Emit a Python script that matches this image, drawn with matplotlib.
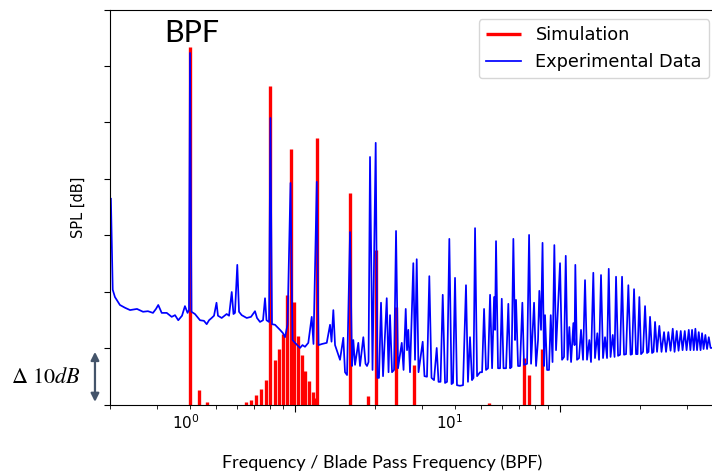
import numpy as np
import matplotlib
matplotlib.use('Agg')
import matplotlib.pyplot as plt
from matplotlib.ticker import NullLocator

# simulation tones (frequency / BPF, SPL dB)
sim_freq = [1.000, 1.081, 1.162, 1.623, 1.699, 1.777, 1.853, 1.934, 2.011, 2.089,
            2.163, 2.238, 2.317, 2.395, 2.475, 2.556, 2.640, 2.726, 2.818, 2.899,
            2.976, 3.009, 4.016, 4.708, 5.020, 5.990, 7.002, 13.44, 18.21, 19.07,
            21.30]
sim_spl = [63.4, 2.65, 0.5, 0.45, 0.9, 1.8, 2.8, 4.35, 56.5, 8.0,
           9.9, 12.5, 19.4, 45.3, 18.3, 12.2, 8.85, 6.1, 4.2, 2.35,
           1.2, 47.2, 37.5, 1.6, 27.4, 17.4, 7.1, 0.4, 8.3, 5.3,
           9.9]

# experimental spectrum
exp_freq = [0.503, 0.511, 0.521, 0.544, 0.569, 0.594, 0.631, 0.665, 0.694, 0.725,
            0.744, 0.759, 0.782, 0.817, 0.853, 0.878, 0.903, 0.933, 0.957, 0.979,
            0.991, 1.000, 1.013, 1.044, 1.091, 1.129, 1.156, 1.180, 1.207, 1.232,
            1.259, 1.275, 1.317, 1.375, 1.404, 1.437, 1.459, 1.478, 1.508, 1.531,
            1.567, 1.637, 1.699, 1.759, 1.790, 1.837, 1.886, 1.919, 1.944, 1.987,
            2.011, 2.039, 2.093, 2.186, 2.244, 2.283, 2.333, 2.395, 2.437, 2.490,
            2.601, 2.658, 2.716, 2.795, 2.879, 2.924, 3.009, 3.054, 3.149, 3.281,
            3.376, 3.420, 3.474, 3.526, 3.578, 3.681, 3.789, 3.845, 3.913, 4.016,
            4.087, 4.133, 4.195, 4.316, 4.380, 4.508, 4.595, 4.655, 4.717, 4.778,
            4.883, 5.020, 5.098, 5.166, 5.257, 5.350, 5.525, 5.612, 5.685, 5.785,
            5.887, 5.990, 6.095, 6.295, 6.394, 6.516, 6.590, 6.665, 6.764, 6.960,
            7.064, 7.169, 7.282, 7.551, 7.670, 7.838, 7.998, 8.152, 8.332, 8.529,
            8.664, 8.817, 8.987, 9.169, 9.329, 9.517, 9.701, 9.829, 10.00, 10.17,
            10.44, 10.72, 11.00, 11.19, 11.39, 11.59, 11.74, 11.90, 12.11, 12.43,
            12.65, 12.87, 13.09, 13.32, 13.56, 13.80, 14.04, 14.16, 14.28, 14.53,
            14.79, 15.01, 15.24, 15.58, 15.89, 16.13, 16.34, 16.60, 16.84, 16.99,
            17.29, 17.59, 17.95, 18.21, 18.70, 19.03, 19.36, 19.87, 20.22, 20.57,
            20.80, 21.11, 21.39, 21.67, 21.86, 22.25, 22.63, 22.97, 23.33, 23.70,
            24.05, 24.90, 25.34, 25.78, 26.17, 26.58, 27.00, 27.41, 27.96, 28.25,
            28.44, 28.86, 29.37, 29.88, 30.41, 30.94, 31.48, 32.12, 32.59, 33.25,
            33.74, 34.43, 34.94, 35.55, 36.18, 36.81, 37.46, 38.02, 38.62, 39.36,
            39.99, 40.51, 41.22, 41.95, 42.68, 43.42, 44.19, 45.08, 45.96, 46.55,
            47.37, 48.19, 48.83, 49.60, 50.34, 51.22, 52.12, 53.03, 53.73, 54.43,
            55.39, 56.12, 56.85, 57.85, 59.01, 60.14, 61.47, 62.55, 63.81, 65.05,
            66.30, 67.35, 68.65, 69.73, 71.08, 72.20, 73.60, 74.76, 76.21, 77.27,
            78.42, 79.58, 80.70, 81.89, 83.10, 84.42, 85.53, 86.66, 88.03, 89.33,
            90.67, 92.09, 93.29, 98.0]
exp_spl = [36.5, 20.4, 19.1, 17.7, 17.2, 16.8, 17.0, 16.5, 16.6, 16.3,
           17.0, 17.7, 16.3, 16.3, 15.6, 15.9, 15.0, 15.8, 17.5, 16.3,
           16.8, 62.3, 16.5, 16.1, 15.0, 14.9, 14.3, 15.0, 15.4, 15.8,
           18.1, 15.8, 15.4, 16.1, 15.8, 20.0, 16.1, 16.3, 24.8, 16.5,
           15.9, 15.4, 15.6, 16.6, 15.4, 14.7, 15.0, 18.9, 15.0, 14.7,
           50.8, 14.3, 14.2, 13.3, 12.7, 12.0, 14.2, 39.3, 11.5, 11.0,
           10.1, 10.6, 10.3, 11.0, 15.6, 10.8, 39.5, 10.6, 10.8, 11.0,
           14.2, 11.2, 16.8, 10.6, 9.7, 8.0, 11.9, 5.8, 5.3, 30.6,
           6.9, 11.5, 7.1, 11.0, 6.9, 12.0, 7.3, 6.9, 7.6, 43.9,
           6.2, 46.4, 4.8, 4.8, 18.1, 5.1, 18.9, 5.8, 15.9, 5.8,
           6.2, 30.8, 6.5, 11.0, 6.2, 17.0, 9.7, 13.3, 5.8, 25.1,
           8.0, 25.8, 5.8, 11.2, 5.1, 5.0, 22.8, 4.8, 4.4, 10.1,
           4.1, 4.1, 19.5, 3.9, 4.1, 29.4, 3.7, 3.9, 22.5, 3.5,
           3.4, 3.5, 21.2, 4.1, 12.0, 4.4, 4.8, 31.3, 5.1, 5.8,
           5.8, 17.0, 6.2, 6.5, 19.5, 6.5, 19.1, 13.3, 29.0, 6.5,
           6.5, 18.8, 6.5, 6.5, 17.9, 6.5, 6.7, 29.4, 11.5, 18.6,
           6.9, 6.9, 18.1, 7.1, 7.3, 30.1, 7.3, 18.1, 6.9, 11.5,
           20.2, 13.3, 28.7, 6.9, 15.9, 6.2, 6.2, 15.9, 7.6, 28.3,
           9.7, 25.1, 8.0, 8.5, 26.4, 8.0, 13.8, 7.6, 14.5, 10.6,
           24.8, 8.0, 8.3, 13.3, 8.0, 22.1, 8.0, 11.5, 7.6, 23.4,
           8.3, 12.7, 8.0, 23.0, 8.3, 12.0, 8.3, 24.1, 8.5, 12.4,
           8.5, 22.7, 8.7, 8.9, 22.7, 8.9, 9.0, 21.2, 8.9, 9.0,
           20.5, 9.0, 9.0, 19.1, 9.0, 9.4, 17.5, 9.2, 9.4, 15.6,
           9.2, 9.4, 14.7, 9.4, 14.0, 9.4, 12.9, 9.4, 12.9, 9.6,
           13.5, 9.4, 13.1, 9.6, 13.1, 9.7, 13.1, 9.7, 13.3, 9.7,
           13.3, 9.7, 13.5, 9.7, 12.9, 9.7, 12.7, 9.9, 12.4, 9.9,
           12.0, 10.1, 10.1, 10.1]

major_ticks = [2.5, 25]
minor_ticks = [0.5, 0.75, 1.0, 1.25, 1.5, 1.75, 2.0, 2.25,
               5, 7.5, 10, 12.5, 15, 17.5, 20, 22.5, 50, 75]
label_ticks = [0.962, 9.55]
label_text = ['$10^{0}$', '$10^{1}$']

fig = plt.figure(figsize=(7.12, 4.75), dpi=100)
ax = fig.add_axes([0.1548, 0.1474, 0.8565, 0.8326])

ax.vlines(sim_freq, 0, sim_spl, colors='#ff0000', linewidth=2.4, label='Simulation')
ax.plot(exp_freq, exp_spl, color='#0000ff', linewidth=1.25, label='Experimental Data')

ax.set_xscale('log')
ax.set_xlim(0.5, 100)
ax.set_ylim(0, 70)
ax.set_yticks(np.arange(0, 71, 10))
ax.set_xticks(major_ticks)
ax.set_xticks(minor_ticks, minor=True)
ax.tick_params(axis='both', which='both', labelbottom=False, labelleft=False)
ax.tick_params(axis='x', which='major', length=5)
ax.tick_params(axis='x', which='minor', length=3)
ax.tick_params(axis='y', length=4.3)

sec = ax.secondary_xaxis('bottom')
sec.set_xticks(label_ticks)
sec.set_xticklabels(label_text)
sec.xaxis.set_minor_locator(NullLocator())
sec.tick_params(length=0, pad=6, labelsize=11)
sec.spines['bottom'].set_visible(False)

ax.set_ylabel('SPL [dB]', fontsize=10.5)
ax.yaxis.set_label_coords(-0.04, 0.5)

fig.text(0.537, 0.0141, 'Frequency / Blade Pass Frequency (BPF)', ha='center',
         va='baseline', fontsize=13, family='Lato')
ax.text(1.017, 64.2, 'BPF', ha='center', va='baseline', fontsize=22, family='Lato')

# delta 10 dB marker left of the axis
ax.text(-0.105, 3.95, r'$\Delta\ 10dB$', transform=ax.get_yaxis_transform(),
        ha='center', va='baseline', fontsize=16, math_fontfamily='stix')
ax.annotate('', xy=(-0.025, 0.55), xytext=(-0.025, 9.4),
            xycoords=('axes fraction', 'data'), textcoords=('axes fraction', 'data'),
            annotation_clip=False,
            arrowprops=dict(arrowstyle='<|-|>', color='#44546a', lw=1.6,
                            mutation_scale=12, shrinkA=0, shrinkB=0))

ax.legend(loc='upper right', bbox_to_anchor=(0.982, 0.976), borderaxespad=0,
          fontsize=12.8)

fig.savefig('out.png', dpi=100)
